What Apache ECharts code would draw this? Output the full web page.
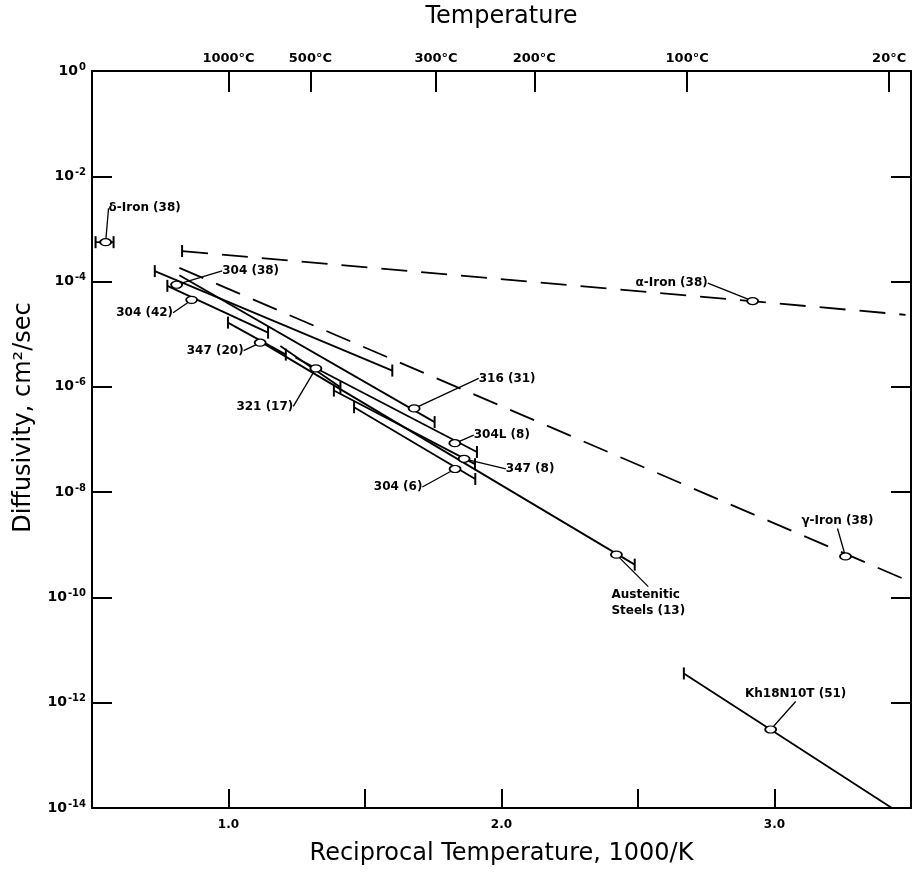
<!DOCTYPE html>
<html>
<head>
<meta charset="utf-8">
<title>Diffusivity vs Reciprocal Temperature</title>
<script src="https://cdn.jsdelivr.net/npm/echarts@6/dist/echarts.min.js"></script>
<style>
    html, body { margin: 0; padding: 0; background: #fff; }
    #chart { width: 921px; height: 874px; }
</style>
</head>
<body>
<div id="chart"></div>
<script>
    // 每条数据线：名称、起点、终点（1000/K, cm^2/sec）、标记点
    const names = ['δ-Iron (38)', 'α-Iron (38)', 'γ-Iron (38)', '304 (38)', '304 (42)', '316 (31)', '347 (20)',
        '321 (17)', '304L (8)', '347 (8)', '304 (6)', 'Austenitic\nSteels (13)', 'Kh18N10T (51)'];
    const xStart = [0.513, 0.83, 0.82, 0.73, 0.776, 0.82, 0.998, 1.19, 1.245, 1.386, 1.46, 1.105, 2.668];
    const dStart = [5.6e-4, 3.8e-4, 1.82e-4, 1.58e-4, 8.3e-5, 1.32e-4, 1.66e-5, 6.0e-6, 3.6e-6, 8.5e-7, 4.1e-7, 7.9e-6, 3.6e-12];
    const xEnd = [0.579, 3.48, 3.47, 1.60, 1.145, 1.755, 1.21, 1.41, 1.91, 1.903, 1.904, 2.488, 3.43];
    const dEnd = [5.6e-4, 2.34e-5, 2.29e-10, 2.04e-6, 1.07e-5, 2.14e-7, 4.1e-6, 9.8e-7, 5.8e-8, 3.4e-8, 1.78e-8, 4.2e-10, 1e-14];
    const xMark = [0.55, 2.92, 3.26, 0.81, 0.865, 1.68, 1.116, 1.32, 1.829, 1.863, 1.83, 2.421, 2.986];
    const dMark = [5.6e-4, 4.27e-5, 6.0e-10, 8.7e-5, 4.5e-5, 3.9e-7, 6.9e-6, 2.24e-6, 8.5e-8, 4.3e-8, 2.75e-8, 6.5e-10, 3.1e-13];
    // 数据范围端点是否有竖线
    const barStart = [1, 1, 0, 1, 1, 0, 1, 0, 0, 1, 1, 0, 1];
    const barEnd = [1, 0, 0, 1, 1, 1, 1, 1, 1, 1, 1, 1, 0];

    // 坐标轴刻度
    const recipTicks = [1.0, 1.5, 2.0, 2.5, 3.0];
    const recipLabels = [1.0, 2.0, 3.0];
    const tempTicks = [1.0, 1.30, 1.76, 2.12, 2.68, 3.42];
    const tempLabels = ['1000°C', '500°C', '300°C', '200°C', '100°C', '20°C'];
    const decades = [1, 1e-2, 1e-4, 1e-6, 1e-8, 1e-10, 1e-12, 1e-14];
    const rightDecades = [1e-2, 1e-4, 1e-6, 1e-8, 1e-10, 1e-12];

    // 样式：虚线、标签偏移（像素，相对标记点中心）
    const dashedLines = ['α-Iron (38)', 'γ-Iron (38)'];
    const labelShift = [[39, -34], [-81, -18], [-8, -36], [74, -14], [-47, 13], [93, -30], [-45, 8],
        [-51, 38], [47, -8], [66, 10], [-57, 18], [-5, 48], [25, -36]];
    const leftAligned = [11];

    const FONT = 'DejaVu Sans';
    const INK = '#000';

    const chart = echarts.init(document.getElementById('chart'));

    const series = [];
    names.forEach(function (n, i) {
        series.push({
            name: n,
            type: 'line',
            data: [[xStart[i], dStart[i]], [xEnd[i], dEnd[i]]],
            symbol: 'none',
            silent: true,
            lineStyle: {
                color: INK,
                width: 1.8,
                type: dashedLines.indexOf(n) >= 0 ? [26, 14] : 'solid'
            },
            z: 2
        });
    });

    const barPts = [];
    names.forEach(function (n, i) {
        if (barStart[i]) barPts.push([xStart[i], dStart[i]]);
        if (barEnd[i]) barPts.push([xEnd[i], dEnd[i]]);
    });
    series.push({
        type: 'scatter',
        data: barPts,
        symbol: 'rect',
        symbolSize: [2, 12],
        itemStyle: { color: INK, opacity: 1 },
        silent: true,
        z: 3
    });

    series.push({
        type: 'scatter',
        data: names.map(function (n, i) {
            return { name: n, value: [xMark[i], dMark[i]] };
        }),
        symbol: 'circle',
        symbolSize: [11, 7],
        itemStyle: { color: '#fff', borderColor: INK, borderWidth: 1.5, opacity: 1 },
        label: {
            show: true,
            position: 'top',
            formatter: '{b}',
            color: INK,
            fontFamily: FONT,
            fontWeight: 'bold',
            fontSize: 12,
            align: 'left',
            lineHeight: 16
        },
        labelLayout: function (p) {
            const s = labelShift[p.dataIndex];
            const cx = p.rect.x + p.rect.width / 2;
            const cy = p.rect.y + p.rect.height / 2;
            const left = leftAligned.indexOf(p.dataIndex) >= 0;
            return {
                x: cx + s[0],
                y: cy + s[1],
                align: left ? 'left' : 'center',
                verticalAlign: 'middle'
            };
        },
        labelLine: {
            show: true,
            smooth: 0.4,
            lineStyle: { color: INK, width: 1.3 }
        },
        silent: true,
        z: 4
    });

    chart.setOption({
        animation: false,
        backgroundColor: '#fff',
        grid: { left: 92, right: 10, top: 67, bottom: 66 },
        xAxis: [
            {
                type: 'value',
                position: 'bottom',
                min: 0.5,
                max: 3.5,
                interval: 0.5,
                name: 'Reciprocal Temperature, 1000/K',
                nameLocation: 'middle',
                nameGap: 34,
                nameTextStyle: { fontFamily: FONT, fontSize: 24, color: INK },
                axisLine: { show: true, lineStyle: { color: INK, width: 2 } },
                axisTick: { show: true, inside: true, length: 19, customValues: recipTicks,
                    lineStyle: { color: INK, width: 2 } },
                axisLabel: {
                    customValues: recipLabels,
                    formatter: function (v) { return v.toFixed(1); },
                    fontFamily: FONT, fontWeight: 'bold', fontSize: 12, color: INK, margin: 11
                },
                splitLine: { show: false }
            },
            {
                type: 'value',
                position: 'top',
                min: 0.5,
                max: 3.5,
                interval: 0.5,
                name: 'Temperature',
                nameLocation: 'middle',
                nameGap: 42,
                nameTextStyle: { fontFamily: FONT, fontSize: 24, color: INK },
                axisLine: { show: true, lineStyle: { color: INK, width: 2 } },
                axisTick: { show: true, inside: true, length: 21, customValues: tempTicks,
                    lineStyle: { color: INK, width: 2 } },
                axisLabel: {
                    customValues: tempTicks,
                    formatter: function (v) {
                        const k = tempTicks.indexOf(v);
                        return k >= 0 ? tempLabels[k] : '';
                    },
                    fontFamily: FONT, fontWeight: 'bold', fontSize: 13, color: INK, margin: 6
                },
                splitLine: { show: false }
            }
        ],
        yAxis: [
            {
                type: 'log',
                logBase: 10,
                position: 'left',
                min: 1e-14,
                max: 1,
                name: 'Diffusivity, cm²/sec',
                nameLocation: 'middle',
                nameGap: 56,
                nameTextStyle: { fontFamily: FONT, fontSize: 24, color: INK, padding: [0, 0, 0, 44] },
                axisLine: { show: true, lineStyle: { color: INK, width: 2 } },
                axisTick: { show: true, inside: true, length: 20, customValues: decades,
                    lineStyle: { color: INK, width: 2 } },
                axisLabel: {
                    customValues: decades,
                    margin: 6,
                    formatter: function (v) {
                        const e = Math.round(Math.log10(v));
                        return '{b|10}{s|' + (e === 0 ? '0' : '-' + (-e)) + '}';
                    },
                    rich: {
                        b: { fontFamily: FONT, fontWeight: 'bold', fontSize: 14, color: INK },
                        s: { fontFamily: FONT, fontWeight: 'bold', fontSize: 10, color: INK,
                            verticalAlign: 'top', padding: [0, 0, 8, 1] }
                    }
                },
                splitLine: { show: false }
            },
            {
                type: 'log',
                logBase: 10,
                position: 'right',
                min: 1e-14,
                max: 1,
                axisLine: { show: true, lineStyle: { color: INK, width: 2 } },
                axisTick: { show: true, inside: true, length: 20, customValues: rightDecades,
                    lineStyle: { color: INK, width: 2 } },
                axisLabel: { show: false },
                splitLine: { show: false }
            }
        ],
        series: series
    });
</script>
</body>
</html>
